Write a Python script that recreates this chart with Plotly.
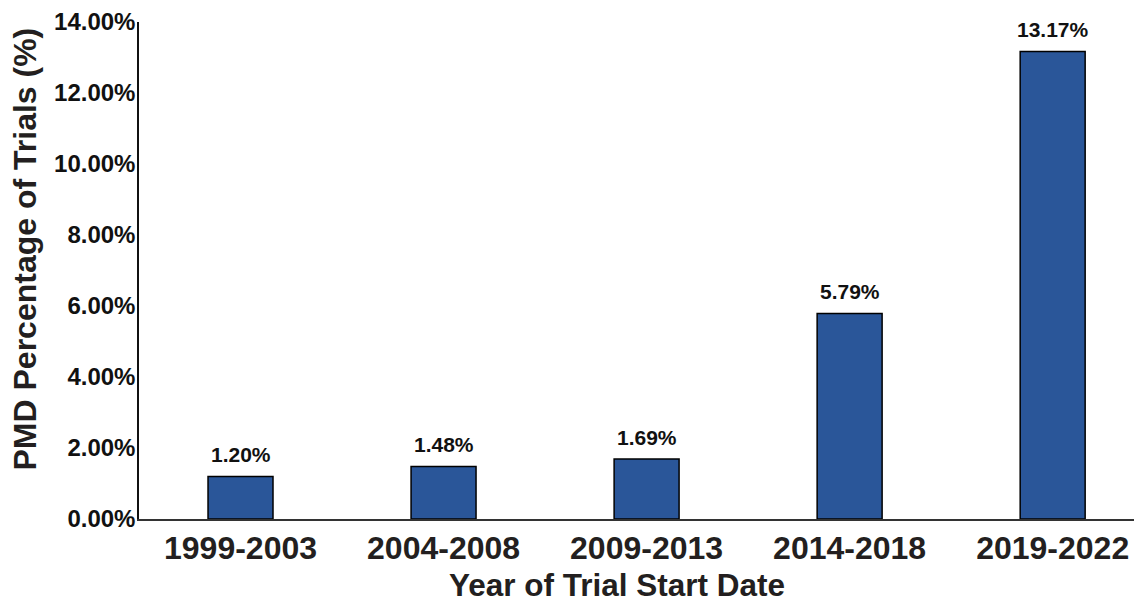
import plotly.graph_objects as go

categories = ["1999-2003", "2004-2008", "2009-2013", "2014-2018", "2019-2022"]
values = [1.20, 1.48, 1.69, 5.79, 13.17]
tick_vals = [0, 2, 4, 6, 8, 10, 12, 14]
tick_text = ["0.00%", "2.00%", "4.00%", "6.00%", "8.00%", "10.00%", "12.00%", "14.00%"]

FONT = "Liberation Sans, Arial, Helvetica, sans-serif"

fig = go.Figure()
fig.add_trace(go.Bar(
    x=categories, y=values,
    marker=dict(color="#2A5699", line=dict(color="#000000", width=1.5)),
    width=0.32,
    hoverinfo="skip",
))

for c, v in zip(categories, values):
    fig.add_annotation(x=c, y=v, text=f"<b>{v:.2f}%</b>", showarrow=False,
                       yanchor="bottom", yshift=8,
                       font=dict(family=FONT, size=21, color="#111111"))

# axis titles as paper annotations for exact placement
fig.add_annotation(xref="paper", yref="paper", x=0.5, y=0, yshift=-66, xshift=-24,
                   text="<b>Year of Trial Start Date</b>", showarrow=False,
                   xanchor="center", yanchor="middle",
                   font=dict(family=FONT, size=31.5, color="#231F20"))
fig.add_annotation(xref="paper", yref="paper", x=0, y=0.5, xshift=-115, yshift=21,
                   text="<b>PMD Percentage of Trials (%)</b>", showarrow=False,
                   textangle=-90, xanchor="center", yanchor="middle",
                   font=dict(family=FONT, size=32, color="#231F20"))

# the page body adds an 8px offset; size the figure so it fills the window
fig.update_layout(
    width=1134, height=596,
    margin=dict(l=131, r=0, t=14, b=85),
    paper_bgcolor="white", plot_bgcolor="white",
    showlegend=False,
    font=dict(family=FONT, color="#111111"),
    xaxis=dict(
        range=[-0.5, 4.44],
        showline=True, linecolor="#333333", linewidth=1.5,
        showgrid=False, ticks="", zeroline=False, automargin=False,
        tickfont=dict(family=FONT, size=32, color="#231F20", weight="bold"),
    ),
    yaxis=dict(
        range=[0, 14], tickvals=tick_vals, ticktext=tick_text,
        showline=True, linecolor="#111111", linewidth=1.5,
        showgrid=False, ticks="", zeroline=False, automargin=False,
        ticklabelstandoff=-3, ticklabeloverflow="allow",
        tickfont=dict(family=FONT, size=24, color="#111111", weight="bold"),
    ),
)

fig.write_html("out.html")
